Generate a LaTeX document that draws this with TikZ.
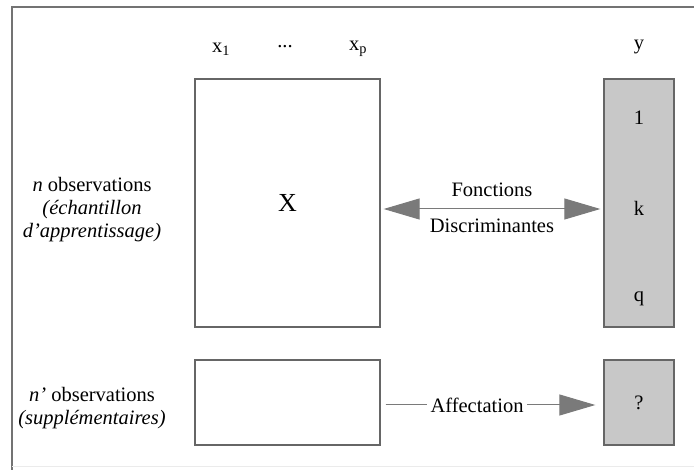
\documentclass[tikz,border=0pt]{standalone}
\usepackage{fontspec}
\setmainfont{Liberation Serif}
\usepackage{xcolor}
\usepackage{tikz}
\usetikzlibrary{positioning, arrows.meta}
\definecolor{boxgray}{HTML}{C8C8C8}
\definecolor{linegray}{HTML}{7A7A7A}
\tikzset{
	>={Triangle[length=36pt, width=21pt]}, % grosses pointes grises
	node distance=2cm, % distance par defaut
	every node/.style={font=\fontsize{20.5}{23}\selectfont, align=center}, % police du texte
	matrice/.style={draw=black!60, line width=1.3pt, minimum width=185pt, minimum height=248pt, inner sep=0pt}, % tableau X
	cible/.style={matrice, fill=boxgray, minimum width=70pt}, % colonne y
	lien/.style={draw=linegray, fill=linegray, line width=1pt}, % fleches
	cadre/.style={draw=black!55, line width=1.2pt}, % bord de la figure
}

\begin{document}
\begin{tikzpicture}[x=1pt, y=-1pt, on grid]
			\useasboundingbox (0,0) rectangle (694,470);
			% Cadre
			\draw[cadre] (12,470) -- (12,7) -- (694,7);
			\draw[black!8, line width=1pt] (12,466) -- (694,466);

			% Tableaux
			\node[matrice] (X) at (287.5,203) {\fontsize{26}{30}\selectfont X};
			\node[cible, right=351.5pt of X] (Y) {};
			\node[matrice, minimum height=85pt, below=199.5pt of X] (Xsup) {};
			\node[cible, minimum height=85pt, below=199.5pt of Y] (Ysup) {?};

			% Modalites de y
			\node (m1) at (639,118) {1};
			\node (mk) at (639,208) {k};
			\node (mq) at (639,299) {q};

			% Variables
			\node (x1) at (221,49) {x\textsubscript{1}};
			\node (dots) at (285,47) {...};
			\node (xp) at (358,49) {x\textsubscript{p}};
			\node (y) at (639,47) {y};

			% Observations
			\node (obs) at (92,210) {\textit{n} observations\\\textit{(échantillon}\\\textit{d'apprentissage)}};
			\node (obssup) at (92,408) {\textit{n'} observations\\\textit{(supplémentaires)}};

			% Fleches
			\draw[lien, <->, shorten <=3pt, shorten >=3pt]
			([yshift=-6pt]X.east) -- node[above=8pt] {Fonctions} node[below=6pt] {Discriminantes} ([yshift=-6pt]Y.west);
			\node (aff) at (477,405) {Affectation};
			\draw[lien, shorten <=5pt] (aff.west -| Xsup.east) -- (aff.west);
			\draw[lien, ->, shorten >=8pt] (aff.east) -- (aff.east -| Ysup.west);
		\end{tikzpicture}
\end{document}
